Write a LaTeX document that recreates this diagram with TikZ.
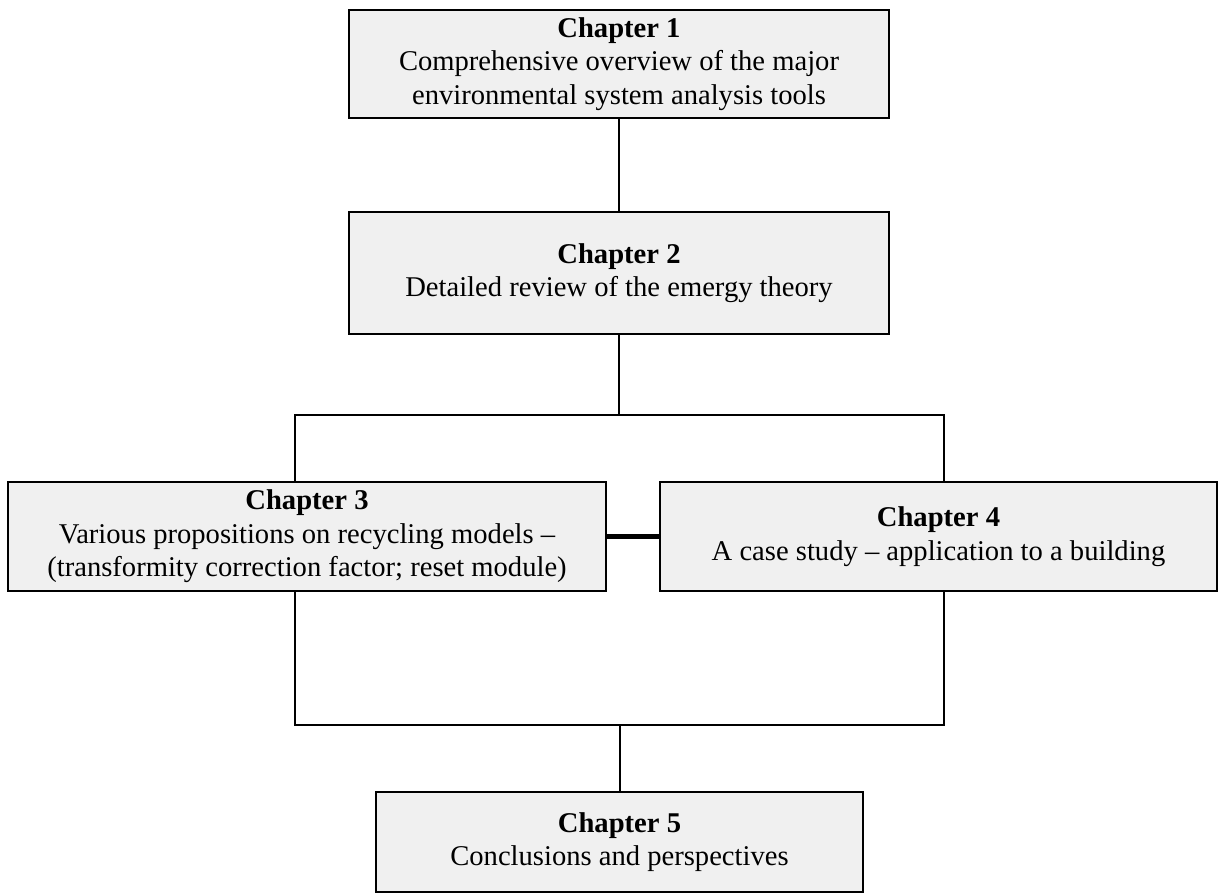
\documentclass[tikz,border=0pt]{standalone}
\usepackage{fontspec}
\setmainfont{Liberation Serif}
\usetikzlibrary{positioning}
\colorlet{boxFill}{black!6}
\colorlet{penColor}{black}
\tikzset{
  chapbox/.style={draw=penColor, fill=boxFill, line width=1pt, inner sep=0pt,
    align=center, font=\fontsize{14.3}{16.8}\selectfont},
  link/.style={draw=penColor, line width=1pt}
}
\begin{document}
\begin{tikzpicture}[x=0.5pt,y=-0.5pt]
				\useasboundingbox (0,0) rectangle (1225,895);
				\node[chapbox, minimum width=270pt, minimum height=54pt] (ch1) at (619,64)
				{\textbf{Chapter 1}\\Comprehensive overview of the major\\environmental system analysis tools};
				\node[chapbox, minimum width=270pt, minimum height=61pt] (ch2) at (619,273)
				{\textbf{Chapter 2}\\Detailed review of the emergy theory};
				\node[chapbox, minimum width=299pt, minimum height=54.5pt] (ch3) at (307,536.5)
				{\textbf{Chapter 3}\\Various propositions on recycling models --\\(transformity correction factor; reset module)};
				\node[chapbox, minimum width=278.5pt, minimum height=54.5pt] (ch4) at (938.5,536.5)
				{\textbf{Chapter 4}\\A case study -- application to a building};
				\node[chapbox, minimum width=243.5pt, minimum height=50pt] (ch5) at (619.5,842)
				{\textbf{Chapter 5}\\Conclusions and perspectives};
				
				\coordinate (topL) at (295,415);
				\coordinate (topR) at (944,415);
				\coordinate (botL) at (295,725);
				\coordinate (botR) at (944,725);
				
				\draw[link] (ch1.south) -- (ch2.north);
				\draw[link] (ch2.south) -- (ch2.south |- topL);
				\draw[link] (ch3.north -| topL) -- (topL) -- (topR) -- (ch4.north -| topR);
				\draw[link] (ch3.south -| botL) -- (botL) -- (botR) -- (ch4.south -| botR);
				\draw[link] (ch5.north) -- (ch5.north |- botL);
				\draw[penColor, line width=2.5pt] (ch3.east) -- (ch4.west);
\end{tikzpicture}
\end{document}
